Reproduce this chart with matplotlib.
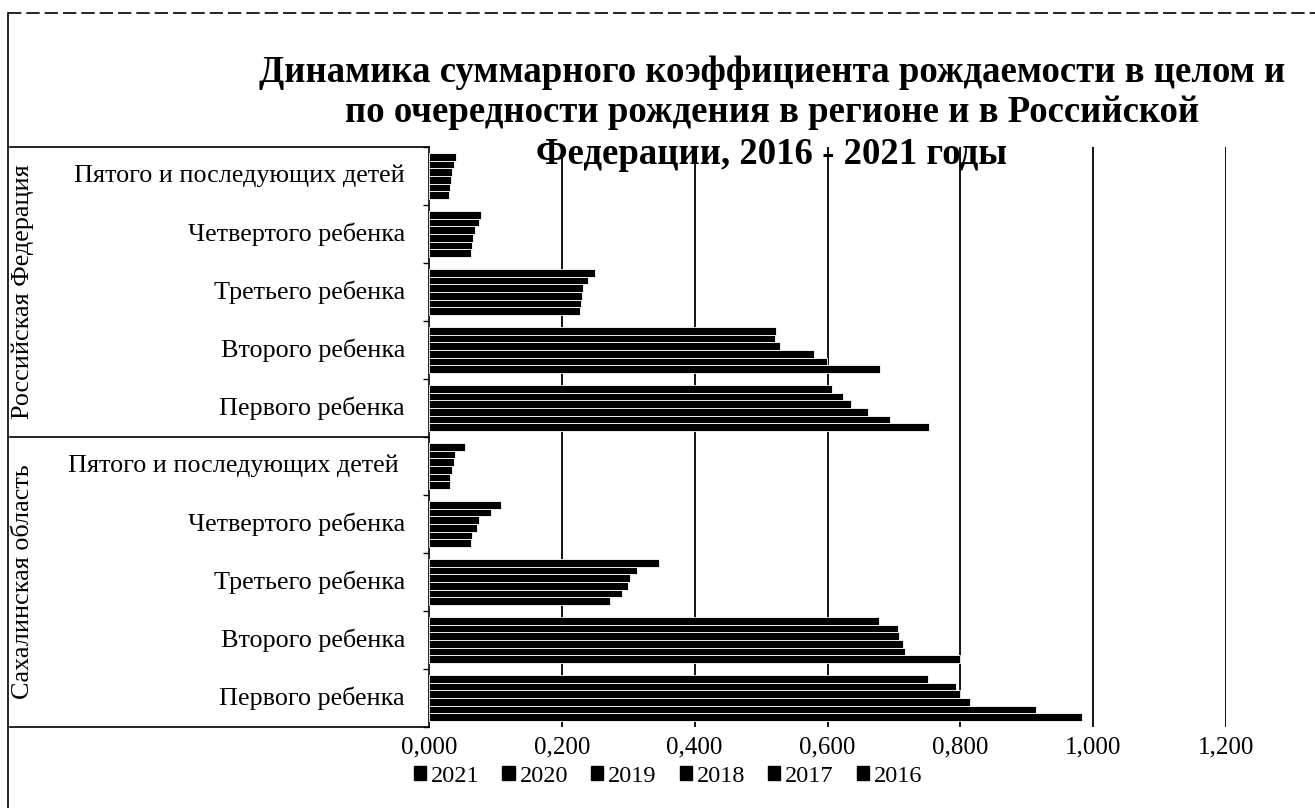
import matplotlib
matplotlib.use("Agg")
import matplotlib.pyplot as plt
from matplotlib.patches import Patch
from matplotlib.lines import Line2D
from matplotlib.ticker import FuncFormatter
import numpy as np

plt.rcParams['font.family'] = ['Liberation Serif', 'DejaVu Serif']

title_lines = ["Динамика суммарного коэффициента рождаемости в целом и",
               "по очередности рождения в регионе и в Российской",
               "Федерации, 2016 - 2021 годы"]
categories = ["Пятого и последующих детей", "Четвертого ребенка", "Третьего ребенка",
              "Второго ребенка", "Первого ребенка",
              "Пятого и последующих детей ", "Четвертого ребенка", "Третьего ребенка",
              "Второго ребенка", "Первого ребенка"]
groups = ["Российская Федерация", "Сахалинская область"]
years = ["2021", "2020", "2019", "2018", "2017", "2016"]

v2021 = [0.040, 0.079, 0.250, 0.523, 0.607, 0.054, 0.108, 0.346, 0.678, 0.751]
v2020 = [0.037, 0.075, 0.239, 0.521, 0.623, 0.039, 0.093, 0.313, 0.706, 0.794]
v2019 = [0.035, 0.069, 0.232, 0.528, 0.635, 0.037, 0.076, 0.303, 0.708, 0.800]
v2018 = [0.033, 0.067, 0.230, 0.580, 0.661, 0.034, 0.072, 0.299, 0.713, 0.815]
v2017 = [0.032, 0.064, 0.229, 0.599, 0.694, 0.031, 0.064, 0.290, 0.716, 0.914]
v2016 = [0.030, 0.063, 0.228, 0.679, 0.753, 0.032, 0.063, 0.273, 0.800, 0.983]
series = [v2021, v2020, v2019, v2018, v2017, v2016]

x_ticks = [0.0, 0.2, 0.4, 0.6, 0.8, 1.0, 1.2]

W, H = 1315, 808
fig = plt.figure(figsize=(W / 100, H / 100), dpi=100)
ax_left, ax_right, ax_top, ax_bot = 429, 1226, 147, 727
ax = fig.add_axes([ax_left / W, 1 - ax_bot / H, (ax_right - ax_left) / W, (ax_bot - ax_top) / H])

n = len(categories)
ypos = np.arange(n)
group_frac = 0.80
bh = group_frac / len(series)
for j, vals in enumerate(series):
    offs = -group_frac / 2 + (j + 0.5) * bh
    ax.barh(ypos + offs, vals, height=bh, color='black', edgecolor='white',
            linewidth=0.6, zorder=3)

ax.set_xlim(0, 1.2)
ax.set_ylim(n - 0.5, -0.5)
ax.set_xticks(x_ticks)
ax.xaxis.set_major_formatter(FuncFormatter(lambda v, p: f"{v:.3f}".replace('.', ',')))
ax.tick_params(axis='x', length=0, pad=7, labelsize=18)
ax.set_yticks(np.arange(n + 1) - 0.5)
ax.set_yticklabels([])
ax.tick_params(axis='y', length=4, width=1, direction='out')
for s in ['top', 'right', 'bottom']:
    ax.spines[s].set_visible(False)
ax.spines['left'].set_color('black')
ax.spines['left'].set_linewidth(1.2)
for xv in x_ticks[1:]:
    ax.axvline(xv, color='black', linewidth=1.3, zorder=1)

ytr = ax.get_yaxis_transform()
lab_x = (405 - ax_left) / (ax_right - ax_left)
for i, c in enumerate(categories):
    ax.text(lab_x, i, c, transform=ytr, ha='right', va='center', fontsize=18.8)

grp_x = (23 - ax_left) / (ax_right - ax_left)
ax.text(grp_x, 2, groups[0], transform=ytr, rotation=90, ha='center', va='center', fontsize=18.8)
ax.text(grp_x, 7, groups[1], transform=ytr, rotation=90, ha='center', va='center', fontsize=18.8)

box_x0 = (10 - ax_left) / (ax_right - ax_left)
for yb in [-0.5, 4.5, 9.5]:
    ax.add_line(Line2D([box_x0, 0], [yb, yb], transform=ytr, color='black',
                       linewidth=1.2, clip_on=False))

# outer frame (scan border)
fig.add_artist(Line2D([8 / W, 8 / W], [0, 1 - 13 / H], transform=fig.transFigure,
                      color='black', linewidth=1.2))
fig.add_artist(Line2D([8 / W, 1], [1 - 13 / H, 1 - 13 / H], transform=fig.transFigure,
                      color='black', linewidth=1.2, linestyle=(0, (8, 3))))

for k, (line, yc) in enumerate(zip(title_lines, [72, 113, 154])):
    fig.text(772 / W, 1 - yc / H, line, ha='center', va='center',
             fontsize=26.5, fontweight='bold', zorder=5)

handles = [Patch(facecolor='black', edgecolor='black') for _ in years]
fig.legend(handles, years, loc='center', bbox_to_anchor=(668 / W, 1 - 776 / H),
           ncol=6, frameon=False, fontsize=17.5, handlelength=0.5, handleheight=0.5,
           handletextpad=0.2, columnspacing=0.95, borderpad=0)

fig.savefig("out.png", dpi=100)
